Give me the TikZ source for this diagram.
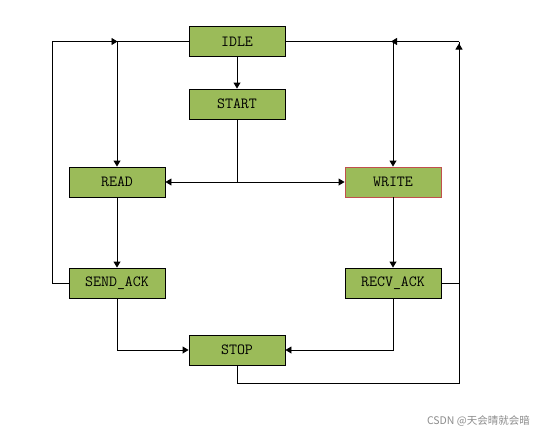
\documentclass[tikz,border=0pt]{standalone}
\usepackage{fontspec}
\newfontfamily\cjk{Noto Sans CJK SC}
\usetikzlibrary{arrows.meta}
\definecolor{boxgreen}{HTML}{9BBB59}
\definecolor{wmgray}{HTML}{8C8C8C}
\begin{document}
\begin{tikzpicture}[x=1pt,y=-1pt,
  state/.style={draw=black,line width=0.9pt,fill=boxgreen,minimum width=96pt,minimum height=30pt,inner sep=0pt,font=\ttfamily\fontsize{15.5}{16}\selectfont},
  conn/.style={line width=0.9pt,-{Triangle[length=6pt,width=7pt]}},
  plain/.style={line width=0.9pt}]
\useasboundingbox[fill=white] (0,0) rectangle (546,439);
\node[state] (idle) at (237,41.5) {IDLE};
\node[state] (start) at (237,104) {START};
\node[state] (read) at (117,182) {READ};
\node[state,draw={rgb,255:red,192;green,80;blue,77}] (write) at (393,182) {WRITE};
\node[state] (sack) at (117,283) {SEND\_ACK};
\node[state] (rack) at (393,283) {RECV\_ACK};
\node[state] (stop) at (237,350) {STOP};
\coordinate (sj) at (237,182);
\coordinate (ll) at (52,41.5);
\coordinate (la) at (117,41.5);
\coordinate (rr) at (459,41.5);
\coordinate (ra) at (393,41.5);
\coordinate (bb) at (237,383);
% IDLE -> START
\draw[conn] (idle) -- (start);
% START -> READ / WRITE
\draw[plain] (start.south) -- (sj);
\draw[conn] (sj) -- (read.east);
\draw[conn] (sj) -- (write.west);
% IDLE -> READ, IDLE -> WRITE
\draw[conn] (idle.west) -| (read.north);
\draw[conn] (idle.east) -| (write.north);
% READ -> SEND_ACK, WRITE -> RECV_ACK
\draw[conn] (read) -- (sack);
\draw[conn] (write) -- (rack);
% SEND_ACK / RECV_ACK -> STOP
\draw[conn] (sack.south) |- (stop.west);
\draw[conn] (rack.south) |- (stop.east);
% SEND_ACK -> IDLE loop
\draw[plain] (sack.west) -| (ll);
\draw[conn,shorten >=-1pt] (ll) -- ([xshift=-0.5pt]la);
% RECV_ACK / STOP -> IDLE loop
\draw[plain] (rack.east) -| (rr);
\draw[plain] (stop.south) |- (bb -| rr) -- (rack.east -| rr);
\draw[conn] ([yshift=-8pt]rr) -- ([yshift=-2pt]rr);
\draw[plain] (rr) -- (ra);
\draw[conn] (rr) -- ([xshift=-2pt]ra);
\node[font=\cjk\fontsize{10.5}{12}\selectfont,text=wmgray,anchor=east,inner sep=0pt] (wm) at (530,421) {CSDN @天会晴就会暗};
\end{tikzpicture}
\end{document}
